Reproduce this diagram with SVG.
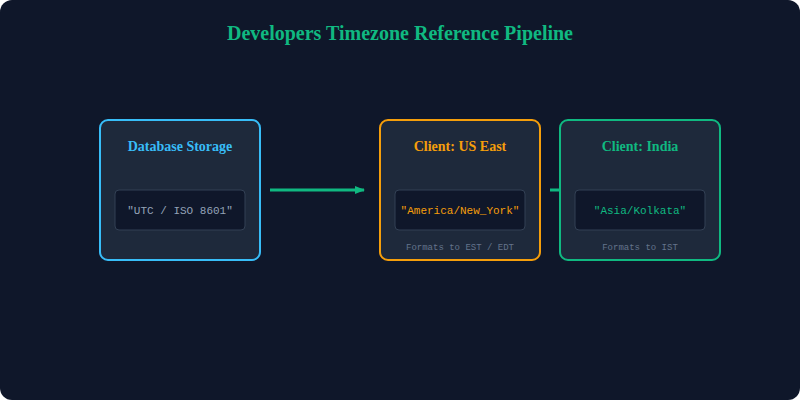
<svg xmlns="http://www.w3.org/2000/svg" width="800" height="400" viewBox="0 0 800 400">
<style>
.card{fill:#1e293b;stroke-width:2}
.inner{fill:#0f172a;stroke:#334155;stroke-width:1}
.h{font-family:"Liberation Serif",serif;font-weight:bold;font-size:14px;text-anchor:middle}
.m{font-family:"Liberation Mono",monospace;font-size:11px;text-anchor:middle}
.s{font-family:"Liberation Mono",monospace;font-size:9px;text-anchor:middle;fill:#64748b}
</style>
<defs><marker id="a" markerWidth="10" markerHeight="8" refX="9" refY="4" orient="auto" markerUnits="userSpaceOnUse"><path d="M0,0L10,4L0,8z" fill="#10b981"/></marker></defs>
<rect width="800" height="400" rx="12" fill="#0f172a"/>
<text x="400" y="40" font-family="Liberation Serif,serif" font-weight="bold" font-size="20" fill="#10b981" text-anchor="middle">Developers Timezone Reference Pipeline</text>
<g id="connectors" stroke="#10b981" stroke-width="3" fill="none">
<line x1="270" y1="190" x2="364" y2="190" marker-end="url(#a)"/>
<line x1="550" y1="190" x2="575" y2="190"/>
</g>
<g id="db">
<rect class="card" x="100" y="120" width="160" height="140" rx="8" stroke="#38bdf8"/>
<text class="h" x="180" y="151" fill="#38bdf8">Database Storage</text>
<rect class="inner" x="115" y="190" width="130" height="40" rx="4"/>
<text class="m" x="180" y="214" fill="#94a3b8">"UTC / ISO 8601"</text>
</g>
<g id="us">
<rect class="card" x="380" y="120" width="160" height="140" rx="8" stroke="#f59e0b"/>
<text class="h" x="460" y="151" fill="#f59e0b">Client: US East</text>
<rect class="inner" x="395" y="190" width="130" height="40" rx="4"/>
<text class="m" x="460" y="214" fill="#f59e0b">"America/New_York"</text>
<text class="s" x="460" y="250">Formats to EST / EDT</text>
</g>
<g id="india">
<rect class="card" x="560" y="120" width="160" height="140" rx="8" stroke="#10b981"/>
<text class="h" x="640" y="151" fill="#10b981">Client: India</text>
<rect class="inner" x="575" y="190" width="130" height="40" rx="4"/>
<text class="m" x="640" y="214" fill="#10b981">"Asia/Kolkata"</text>
<text class="s" x="640" y="250">Formats to IST</text>
</g>
</svg>
